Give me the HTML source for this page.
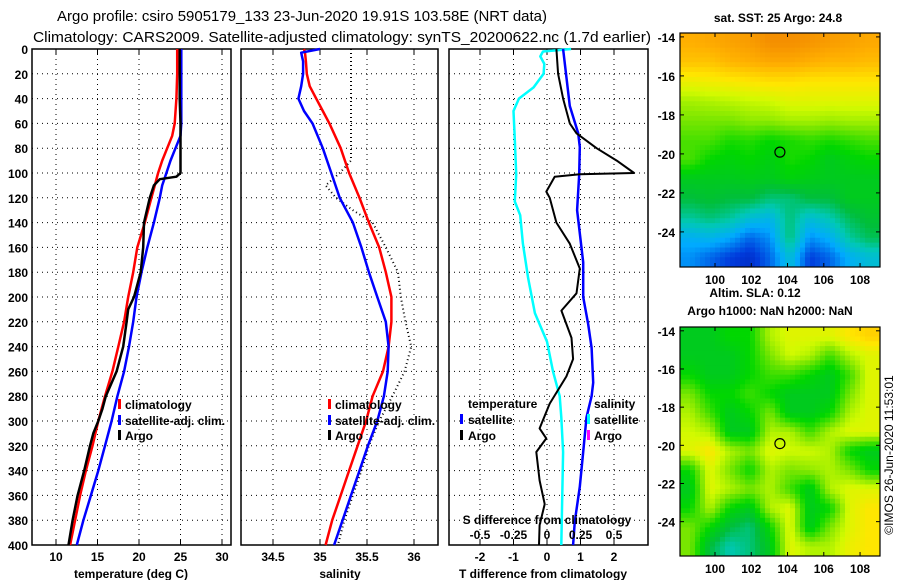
<!DOCTYPE html>
<html><head><meta charset="utf-8"><style>
html,body{margin:0;padding:0;background:#fff;}
svg{display:block;font-family:"Liberation Sans",sans-serif;}
.t{font-weight:bold;font-size:12px;}
</style></head><body>
<svg id="fig" width="900" height="580" viewBox="0 0 900 580" xmlns="http://www.w3.org/2000/svg">
<text x="302" y="21" font-size="15" text-anchor="middle" textLength="490" lengthAdjust="spacingAndGlyphs">Argo profile: csiro 5905179_133 23-Jun-2020 19.91S 103.58E (NRT data)</text>
<text x="342" y="42" font-size="15" text-anchor="middle" textLength="618" lengthAdjust="spacingAndGlyphs">Climatology: CARS2009. Satellite-adjusted climatology: synTS_20200622.nc (1.7d earlier)</text>
<g id="g"></g>
<text transform="translate(893,455) rotate(-90)" font-size="12" text-anchor="middle">©IMOS 26-Jun-2020 11:53:01</text>
</svg>
<script>
// ---- data ----
const depths = [0,20,40,60,70,80,90,100,110,120,140,160,180,200,220,240,260,280,300,320,340,360,380,400];
const tempClim = [24.6,24.6,24.5,24.3,24.0,23.4,22.8,22.3,21.9,21.5,20.7,19.8,19.3,18.7,18.2,17.5,16.8,15.9,15.1,14.4,13.6,12.9,12.3,11.7];
const tempSat = [25.1,25.1,25.1,25.1,25.0,24.4,23.8,23.3,22.8,22.5,21.8,21.0,20.3,19.7,19.3,18.8,18.2,17.4,16.7,15.9,15.1,14.2,13.3,12.5];
const argoDepths = [0,20,40,60,80,100,103,105,110,120,140,160,180,195,200,210,220,240,260,280,290,300,310,320,340,360,380,400];
const tempArgo = [24.9,24.9,24.9,25.0,25.0,25.0,24.5,22.5,21.8,21.3,20.6,20.5,20.2,19.6,19.4,18.7,18.5,18.1,17.3,16.0,15.6,15.1,14.5,14.1,13.4,12.6,12.0,11.5];
const salDepths = [0,3,10,20,30,40,50,60,80,100,120,140,160,180,200,220,240,260,280,300,320,340,360,380,400];
const salClim = [34.83,34.84,34.85,34.86,34.89,34.96,35.03,35.10,35.22,35.31,35.42,35.52,35.63,35.70,35.76,35.76,35.73,35.67,35.56,35.49,35.40,35.31,35.22,35.13,35.06];
const salSat = [35.0,34.80,34.82,34.82,34.80,34.77,34.83,34.92,35.03,35.12,35.21,35.35,35.44,35.52,35.61,35.70,35.73,35.72,35.68,35.61,35.51,35.42,35.33,35.24,35.15];
const salArgoDepths = [0,20,40,60,80,90,100,110,120,130,140,160,180,200,220,240,260,280,300,320,340,360,380,400];
const salArgo = [35.33,35.33,35.33,35.33,35.33,35.33,35.21,35.06,35.17,35.35,35.56,35.70,35.83,35.86,35.91,35.97,35.90,35.77,35.63,35.52,35.44,35.35,35.26,35.19];
const dDepthsT = [0,20,40,60,68,80,90,100,101,103,115,120,140,157,177,197,211,233,250,264,286,306,314,325,348,367,384,400];
const dTArgo = [0.28,0.33,0.48,0.68,0.88,1.48,2.08,2.6,0.98,0.23,-0.02,0.08,0.28,0.68,0.98,0.88,0.43,0.73,0.78,0.58,0.08,-0.22,-0.02,-0.32,-0.22,-0.07,-0.22,-0.24];
const dDepthsSat = [0,46,68,79,101,130,172,200,222,241,269,280,297,325,353,381,400];
const dTSat = [0.48,0.68,0.93,0.98,0.96,0.9,1.08,1.08,1.23,1.33,1.38,1.33,1.18,1.08,0.98,0.83,0.78];
const dDepthsS = [0,2,6,12,20,31,40,50,73,101,123,134,157,185,213,236,260,280,297,325,400];
const dSSat = [0.18,-0.03,-0.05,-0.02,-0.025,-0.1,-0.21,-0.25,-0.24,-0.23,-0.24,-0.2,-0.18,-0.14,-0.09,0,0.045,0.095,0.107,0.12,0.107];
const tempTicks = [10,15,20,25,30];
const salTicks = [34.5,35,35.5,36];
const dTTicks = [-2,-1,0,1,2];
const dSTicks = [-0.5,-0.25,0,0.25,0.5];
const dSTickLabels = ["-0.5","-0.25","0","0.25","0.5"];
const depthTicks = [0,20,40,60,80,100,120,140,160,180,200,220,240,260,280,300,320,340,360,380,400];
const lonTicks = [100,102,104,106,108];
const latTicks = [-14,-16,-18,-20,-22,-24];
const argoLon = 103.58, argoLat = -19.91;
const sstGrid = [
[0.93,0.94,0.95,0.96,0.98,0.98,0.97,0.96,0.95,0.94],
[0.9,0.9,0.92,0.93,0.94,0.94,0.93,0.92,0.92,0.91],
[0.82,0.83,0.84,0.85,0.86,0.86,0.85,0.85,0.85,0.85],
[0.74,0.75,0.76,0.77,0.78,0.8,0.8,0.8,0.8,0.8],
[0.7,0.7,0.7,0.72,0.72,0.74,0.74,0.73,0.74,0.74],
[0.66,0.66,0.62,0.63,0.6,0.62,0.64,0.62,0.64,0.66],
[0.66,0.6,0.58,0.6,0.57,0.62,0.6,0.55,0.58,0.6],
[0.55,0.55,0.55,0.56,0.55,0.58,0.56,0.55,0.55,0.55],
[0.5,0.52,0.5,0.5,0.45,0.45,0.5,0.5,0.55,0.55],
[0.42,0.45,0.42,0.35,0.32,0.45,0.35,0.4,0.48,0.52],
[0.3,0.32,0.28,0.2,0.25,0.45,0.25,0.3,0.42,0.48],
[0.25,0.2,0.15,0.12,0.2,0.35,0.15,0.2,0.3,0.35]];
const slaGrid = [
[0.55,0.55,0.6,0.6,0.75,0.8,0.8,0.8,0.85,0.88],
[0.55,0.55,0.55,0.6,0.7,0.78,0.75,0.65,0.75,0.8],
[0.6,0.55,0.55,0.6,0.65,0.65,0.6,0.55,0.65,0.8],
[0.7,0.6,0.6,0.65,0.6,0.55,0.55,0.55,0.7,0.8],
[0.75,0.65,0.55,0.6,0.7,0.55,0.55,0.6,0.75,0.8],
[0.78,0.75,0.55,0.55,0.75,0.75,0.65,0.75,0.8,0.8],
[0.8,0.85,0.75,0.7,0.8,0.78,0.78,0.75,0.6,0.55],
[0.6,0.8,0.7,0.6,0.75,0.7,0.72,0.75,0.7,0.6],
[0.55,0.8,0.75,0.7,0.75,0.65,0.55,0.75,0.8,0.8],
[0.6,0.75,0.6,0.55,0.75,0.8,0.55,0.6,0.8,0.85],
[0.7,0.6,0.5,0.45,0.6,0.8,0.55,0.7,0.8,0.85],
[0.7,0.5,0.4,0.45,0.55,0.8,0.75,0.75,0.82,0.85]];

// ---- drawing ----
const NS="http://www.w3.org/2000/svg";
const G=document.getElementById('g');
function mk(tag,attrs,parent){const e=document.createElementNS(NS,tag);for(const k in attrs)e.setAttribute(k,attrs[k]);(parent||G).appendChild(e);return e;}
const TOP=49,BOT=545;
const yD=d=>TOP+(d/400)*(BOT-TOP);
const xT=v=>56+(v-10)*8.3;
const xS=v=>320+(v-35)*94;
const xDT=v=>547+v*33.5;
const xDS=v=>547+v*134;
const panels=[[32,231],[241,438],[449,648]];

function frame(i,name){const [l,r]=panels[i];
 const f=mk('rect',{x:l,y:TOP,width:r-l,height:BOT-TOP,fill:'none',stroke:'#000','stroke-width':1.5});
 
 
 depthTicks.forEach(d=>{ if(d>0&&d<400){const ln=mk('line',{x1:l,x2:r,y1:yD(d),y2:yD(d),stroke:'#000','stroke-dasharray':'1,4'});
   
   }});
}
function vgrid(i,vals,fx,labels,ly,name){
 vals.forEach((v,k)=>{const x=fx(v);
  const ln=mk('line',{x1:x,x2:x,y1:TOP,y2:BOT,stroke:'#000','stroke-dasharray':'1,4'});
  
  
  mk('line',{x1:x,x2:x,y1:TOP,y2:TOP+5,stroke:'#000'});
  mk('line',{x1:x,x2:x,y1:BOT,y2:BOT-5,stroke:'#000'});
  const t=mk('text',{x:x,y:ly,'text-anchor':'middle',class:'t'});t.textContent=labels?labels[k]:String(v);
  
  });
}
function line(xs,ds,fx,color,w,name,dash){
 const pts=xs.map((v,k)=>fx(v).toFixed(1)+','+yD(ds[k]).toFixed(1)).join(' ');
 const a={points:pts,fill:'none',stroke:color,'stroke-width':w,'stroke-linejoin':'round'};
 if(dash)a['stroke-dasharray']=dash;
 const p=mk('polyline',a);
 
 
}
function text(x,y,s,name,anchor){const t=mk('text',{x:x,y:y,class:'t','text-anchor':anchor||'start'});t.textContent=s;
 
 return t;}
function legTick(x,y,c,name){const r=mk('rect',{x:x-1,y:y-10,width:3,height:10,fill:c});
 
 }

depthTicks.forEach(d=>text(28,yD(d)+5,String(d),'depth-tick-label','end'));

// panel 1
frame(0,'temperature-panel');
vgrid(0,tempTicks,xT,null,561,'temperature');
line(tempClim,depths,xT,'#ff0000',2.5,'temperature-climatology-line');
line(tempSat,depths,xT,'#0000ff',2.5,'temperature-satellite-line');
line(tempArgo,argoDepths,xT,'#000',2.5,'temperature-argo-line');
text(131,578,'temperature (deg C)','temperature-axis-title','middle');
legTick(119,409,'#f00','legend-climatology-swatch');text(125,409,'climatology','legend-climatology');
legTick(119,425,'#00f','legend-satellite-swatch');text(125,425,'satellite-adj. clim.','legend-satellite');
legTick(119,440,'#000','legend-argo-swatch');text(125,440,'Argo','legend-argo');

// panel 2
frame(1,'salinity-panel');
vgrid(1,salTicks,xS,null,561,'salinity');
line(salArgo,salArgoDepths,xS,'#000',2,'salinity-argo-line','1,3');
line(salClim,salDepths,xS,'#ff0000',2.5,'salinity-climatology-line');
line(salSat,salDepths,xS,'#0000ff',2.5,'salinity-satellite-line');
text(340,578,'salinity','salinity-axis-title','middle');
legTick(329,409,'#f00','legend-climatology-swatch');text(335,409,'climatology','legend-climatology');
legTick(329,425,'#00f','legend-satellite-swatch');text(335,425,'satellite-adj. clim.','legend-satellite');
legTick(329,440,'#000','legend-argo-swatch');text(335,440,'Argo','legend-argo');

// panel 3
frame(2,'difference-panel');
vgrid(2,dTTicks,xDT,null,561,'t-difference');
line(dSSat,dDepthsS,xDS,'#00ffff',2.5,'salinity-difference-satellite-line');
line(dTSat,dDepthsSat,xDT,'#0000ff',2.5,'temperature-difference-satellite-line');
line(dTArgo,dDepthsT,xDT,'#000',2,'temperature-difference-argo-line');
text(543,578,'T difference from climatology','t-difference-axis-title','middle');
text(468,408,'temperature','legend-temperature-heading');
legTick(461,424,'#00f','legend-t-satellite-swatch');text(468,424,'satellite','legend-t-satellite');
legTick(461,440,'#000','legend-t-argo-swatch');text(468,440,'Argo','legend-t-argo');
text(594,408,'salinity','legend-salinity-heading');
legTick(588,424,'#0ff','legend-s-satellite-swatch');text(594,424,'satellite','legend-s-satellite');
legTick(588,440,'#f0f','legend-s-argo-swatch');text(594,440,'Argo','legend-s-argo');
text(547,524,'S difference from climatology','s-difference-axis-title','middle');
dSTicks.forEach((v,k)=>text(xDS(v),539,dSTickLabels[k],'s-difference-tick-label','middle'));

// maps
function col(v){
 const stops=[[0,[0,0,140]],[0.15,[0,60,220]],[0.28,[0,170,255]],[0.4,[0,200,180]],[0.5,[0,190,60]],[0.6,[0,215,0]],[0.7,[120,230,0]],[0.78,[210,250,0]],[0.85,[255,230,0]],[0.93,[255,175,0]],[1,[240,130,0]]];
 for(let i=1;i<stops.length;i++){if(v<=stops[i][0]){const a=stops[i-1],b=stops[i],t=(v-a[0])/(b[0]-a[0]);
  return 'rgb('+a[1].map((c,j)=>Math.round(c+(b[1][j]-c)*t)).join(',')+')';}}
 return 'rgb(240,130,0)';
}
function sample(grid,fr,fc){
 const rows=grid.length,cols=grid[0].length;
 const r=Math.min(Math.max(fr-0.5,0),rows-1),c=Math.min(Math.max(fc-0.5,0),cols-1);
 const r0=Math.floor(r),c0=Math.floor(c),r1=Math.min(r0+1,rows-1),c1=Math.min(c0+1,cols-1);
 const tr=r-r0,tc=c-c0;
 return (grid[r0][c0]*(1-tc)+grid[r0][c1]*tc)*(1-tr)+(grid[r1][c0]*(1-tc)+grid[r1][c1]*tc)*tr;
}
function map(top,bot,grid,name){
 const L=680,R=880,lon0=98.07,lon1=109.1,lat0=-13.8,lat1=-25.8;
 const xL=v=>L+(v-lon0)/(lon1-lon0)*(R-L);
 const yL=v=>top+(lat0-v)/(lat0-lat1)*(bot-top);
 const rows=grid.length,cols=grid[0].length,SUB=4;
 const cw=(R-L)/(cols*SUB),ch=(bot-top)/(rows*SUB);
 for(let ri=0;ri<rows*SUB;ri++)for(let ci=0;ci<cols*SUB;ci++){
  const v=sample(grid,(ri+0.5)/SUB,(ci+0.5)/SUB);
  const c=mk('rect',{x:(L+ci*cw).toFixed(2),y:(top+ri*ch).toFixed(2),width:(cw+0.4).toFixed(2),height:(ch+0.4).toFixed(2),fill:col(v)});
  
  
 }
 const f=mk('rect',{x:L,y:top,width:R-L,height:bot-top,fill:'none',stroke:'#000','stroke-width':1.2});
 
 
 lonTicks.forEach(v=>{const x=xL(v);mk('line',{x1:x,x2:x,y1:top,y2:top+4,stroke:'#000'});mk('line',{x1:x,x2:x,y1:bot,y2:bot-4,stroke:'#000'});
  text(x,bot+17,String(v),name+'-lon-label','middle');});
 latTicks.forEach(v=>{const y=yL(v);mk('line',{x1:L,x2:L+4,y1:y,y2:y,stroke:'#000'});mk('line',{x1:R,x2:R-4,y1:y,y2:y,stroke:'#000'});
  text(L-5,y+5,String(v),name+'-lat-label','end');});
 const m=mk('circle',{cx:xL(argoLon),cy:yL(argoLat),r:5,fill:'none',stroke:'#000','stroke-width':1.2});
 
 
}
map(33,267,sstGrid,'sst-map');
map(327,556,slaGrid,'sla-map');
text(778,22,'sat. SST: 25 Argo: 24.8','sst-map-title','middle');
text(755,297,'Altim. SLA: 0.12','sla-value','middle');
text(770,315,'Argo h1000: NaN h2000: NaN','sla-map-title','middle');
</script>
</body></html>
